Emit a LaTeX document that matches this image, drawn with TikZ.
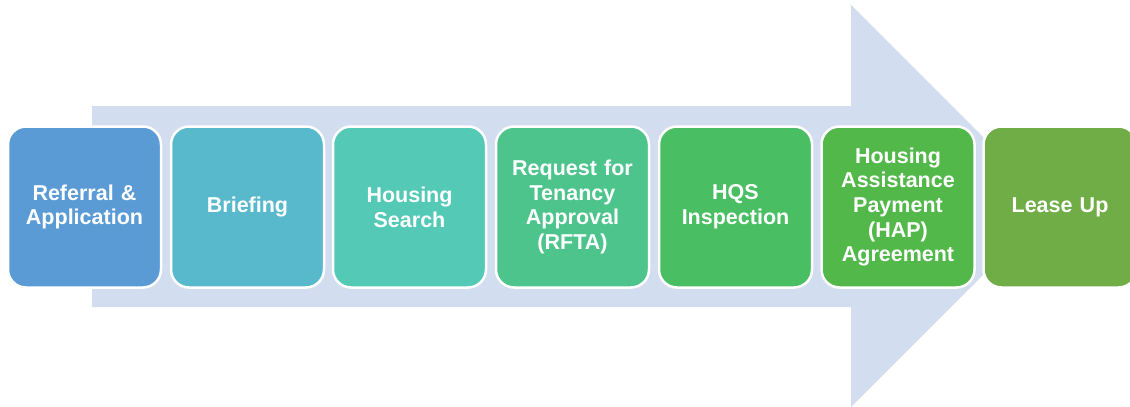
\documentclass[tikz,border=0pt]{standalone}
\usepackage{fontspec}
\setmainfont{Liberation Sans}
\definecolor{arrowbg}{HTML}{D2DDEF}
\definecolor{cA}{HTML}{5B9BD5}
\definecolor{cB}{HTML}{57B9CB}
\definecolor{cC}{HTML}{53C9B6}
\definecolor{cD}{HTML}{4EC48D}
\definecolor{cE}{HTML}{49BE62}
\definecolor{cF}{HTML}{53B84A}
\definecolor{cG}{HTML}{70AD47}
\tikzset{
  stepbox/.style={draw=white, line width=2.5pt, rounded corners=18pt,
    minimum width=153pt, minimum height=161pt, text width=150pt,
    align=center, text=white, inner sep=0pt,
    font=\fontsize{21.5pt}{24.7pt}\selectfont\bfseries}
}
\begin{document}
\begin{tikzpicture}[x=1pt,y=-1pt]
\useasboundingbox (0,0) rectangle (1130,407);
\clip (0,0) rectangle (1130,407);
\fill[arrowbg] (92,106) -- (851,106) -- (851,5) -- (1052,206) -- (851,407) -- (851,307) -- (92,307) -- cycle;
\node[stepbox, fill=cA] (s1) at (84.5,207) {Referral \&\\Application};
\node[stepbox, fill=cB] (s2) at (247.5,207) {Briefing};
\node[stepbox, fill=cC] (s3) at (409.5,207) {Housing\\Search};
\node[stepbox, fill=cD] (s4) at (572.5,207) {Request for\\Tenancy\\Approval\\(RFTA)};
\node[stepbox, fill=cE] (s5) at (735.5,207) {HQS\\Inspection};
\node[stepbox, fill=cF] (s6) at (898,207) {Housing\\Assistance\\Payment\\(HAP)\\Agreement};
\node[stepbox, fill=cG] (s7) at (1060,207) {Lease Up};
\end{tikzpicture}
\end{document}
